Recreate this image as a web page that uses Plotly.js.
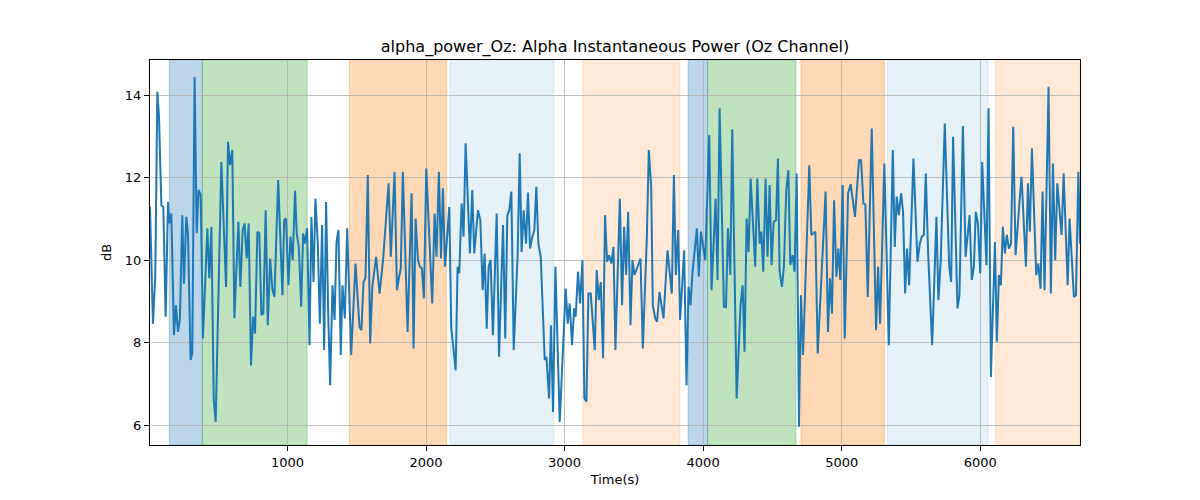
<!DOCTYPE html>
<html>
<head>
<meta charset="utf-8">
<script src="https://cdn.plot.ly/plotly-3.0.1.min.js"></script>
<style>
    html, body { margin: 0; padding: 0; background: #fff; }
    #chart { width: 1200px; height: 500px; }
</style>
</head>
<body>
<div id="chart"></div>
<script>
// sample times (s) and alpha power (dB)
const timeS = [
    8, 29, 46, 61, 73, 90, 104, 121, 138, 147, 162, 181, 195, 210, 224, 241, 253, 270, 282, 301,
    313, 330, 345, 359, 374, 390, 422, 436, 451, 468, 482, 523, 557, 571, 586, 602, 617, 646, 660, 677,
    691, 706, 720, 737, 752, 766, 783, 797, 812, 826, 843, 858, 875, 891, 906, 933, 964, 976, 990, 1007,
    1022, 1038, 1055, 1067, 1082, 1099, 1113, 1125, 1142, 1159, 1173, 1188, 1202, 1219, 1234, 1250, 1265, 1279, 1294, 1308,
    1325, 1340, 1354, 1368, 1385, 1397, 1414, 1431, 1460, 1491, 1520, 1534, 1549, 1563, 1580, 1597, 1612, 1640, 1665, 1690,
    1730, 1746, 1773, 1790, 1804, 1818, 1833, 1867, 1896, 1910, 1925, 1942, 1956, 1970, 1985, 2002, 2045, 2062, 2076, 2093,
    2108, 2122, 2137, 2168, 2182, 2214, 2228, 2240, 2257, 2271, 2286, 2317, 2334, 2348, 2375, 2392, 2409, 2423, 2438, 2452,
    2466, 2483, 2510, 2527, 2556, 2572, 2587, 2601, 2616, 2633, 2662, 2676, 2690, 2705, 2722, 2736, 2751, 2765, 2782, 2796,
    2811, 2828, 2857, 2869, 2888, 2902, 2917, 2934, 2965, 3008, 3023, 3037, 3054, 3069, 3080, 3097, 3112, 3129, 3143, 3158,
    3172, 3189, 3218, 3232, 3247, 3261, 3278, 3292, 3307, 3321, 3338, 3353, 3367, 3399, 3415, 3430, 3444, 3459, 3476, 3490,
    3505, 3548, 3565, 3594, 3608, 3625, 3637, 3654, 3668, 3685, 3714, 3743, 3774, 3789, 3803, 3820, 3834, 3863, 3880, 3895,
    3909, 3924, 3955, 3969, 3984, 4015, 4044, 4061, 4090, 4104, 4119, 4150, 4165, 4179, 4196, 4210, 4242, 4270, 4285, 4299,
    4314, 4328, 4343, 4376, 4391, 4408, 4420, 4434, 4451, 4465, 4480, 4494, 4509, 4526, 4540, 4552, 4569, 4583, 4600, 4615,
    4629, 4646, 4660, 4675, 4692, 4706, 4721, 4766, 4781, 4810, 4827, 4884, 4901, 4916, 4930, 4945, 4962, 4976, 4990, 5007,
    5022, 5046, 5065, 5096, 5125, 5140, 5157, 5171, 5188, 5217, 5248, 5263, 5277, 5308, 5340, 5369, 5383, 5397, 5412, 5429,
    5443, 5458, 5472, 5487, 5518, 5547, 5564, 5578, 5593, 5607, 5624, 5653, 5684, 5698, 5715, 5744, 5776, 5790, 5804, 5836,
    5850, 5875, 5894, 5923, 5939, 5954, 5968, 5983, 6000, 6014, 6045, 6060, 6077, 6106, 6120, 6135, 6149, 6163, 6178, 6192,
    6207, 6222, 6238, 6255, 6284, 6298, 6330, 6344, 6358, 6373, 6404, 6419, 6435, 6450, 6464, 6493, 6510, 6525, 6541, 6556,
    6587, 6602, 6631, 6645, 6676, 6691, 6708, 6720
];
const powerDb = [
    11.29, 8.46, 9.6, 14.08, 13.47, 11.33, 11.29, 8.63, 11.41, 10.89, 11.13, 8.18, 8.91, 8.26, 8.59, 11.09, 9.43, 11.05, 10.65, 7.58,
    7.74, 14.44, 10.65, 11.7, 11.58, 8.1, 10.77, 9.56, 10.81, 6.61, 6.08, 12.38, 9.35, 12.87, 12.3, 12.67, 8.59, 10.93, 9.35, 10.73,
    10.89, 10.04, 10.89, 7.45, 8.63, 8.22, 10.69, 10.65, 8.67, 8.71, 11.21, 8.42, 10.04, 9.3, 9.11, 11.94, 9.15, 10.97, 11.01, 9.39,
    10.57, 10.0, 11.68, 10.65, 10.32, 8.87, 10.65, 10.4, 10.77, 7.94, 11.05, 9.47, 11.49, 10.4, 8.46, 10.85, 7.82, 11.41, 8.7, 6.97,
    9.39, 8.55, 10.44, 10.73, 7.7, 9.39, 8.59, 10.77, 7.7, 9.92, 8.38, 8.3, 9.47, 9.56, 12.06, 7.98, 9.35, 10.08, 9.19, 10.0,
    11.86, 10.08, 12.14, 9.27, 9.56, 9.8, 12.14, 8.26, 11.62, 7.86, 11.01, 10.0, 9.84, 9.8, 9.07, 12.22, 8.95, 11.13, 10.08, 12.14,
    10.04, 11.74, 9.84, 11.29, 8.38, 7.33, 9.84, 9.68, 11.37, 10.57, 12.83, 10.16, 11.7, 10.16, 11.21, 10.97, 9.27, 10.16, 8.34, 9.84,
    10.0, 8.18, 11.13, 7.66, 10.85, 8.1, 11.09, 11.21, 11.66, 7.82, 10.2, 12.59, 10.2, 11.21, 10.4, 11.64, 10.28, 10.53, 10.73, 11.78,
    10.4, 10.08, 7.58, 7.66, 6.65, 8.42, 6.32, 9.84, 6.08, 9.31, 8.46, 8.95, 7.94, 8.83, 8.63, 9.72, 8.95, 10.0, 6.65, 6.57,
    9.19, 9.19, 7.82, 9.76, 9.03, 9.47, 7.62, 11.09, 9.96, 10.12, 9.92, 10.32, 7.82, 11.49, 8.91, 10.81, 9.64, 11.17, 8.42, 10.0,
    9.64, 10.04, 7.86, 10.57, 12.67, 11.78, 8.91, 8.59, 8.51, 9.23, 8.59, 10.24, 9.19, 12.06, 9.64, 10.73, 8.55, 10.24, 6.97, 9.35,
    8.91, 9.72, 10.77, 9.6, 10.69, 10.0, 13.03, 9.27, 11.49, 9.52, 13.68, 8.87, 8.86, 10.77, 9.64, 13.17, 6.65, 8.91, 9.39, 7.78,
    11.01, 10.2, 11.98, 9.84, 11.98, 10.4, 10.69, 9.72, 11.98, 10.08, 11.82, 9.88, 10.93, 10.97, 12.46, 9.72, 9.35, 9.84, 11.7, 12.18,
    9.88, 10.12, 9.72, 12.1, 5.96, 9.15, 7.7, 12.3, 10.61, 10.69, 7.74, 11.66, 8.26, 9.56, 8.71, 11.45, 9.6, 10.28, 9.52, 11.82,
    8.1, 11.62, 11.84, 11.05, 12.42, 12.42, 11.37, 11.35, 9.11, 13.19, 8.3, 9.84, 8.46, 12.34, 7.94, 12.67, 10.32, 11.54, 11.09, 11.62,
    11.17, 9.19, 10.28, 9.39, 12.46, 9.96, 10.4, 10.57, 10.61, 12.1, 10.16, 7.94, 11.05, 9.03, 10.0, 13.31, 9.84, 9.47, 12.99, 8.83,
    9.15, 13.25, 10.08, 11.09, 9.52, 9.84, 11.17, 10.89, 9.68, 12.38, 9.88, 13.68, 7.17, 10.44, 8.02, 9.64, 9.39, 10.81, 10.16, 10.61,
    10.28, 10.4, 13.23, 10.12, 11.45, 12.02, 9.84, 11.86, 10.69, 12.71, 9.64, 9.92, 9.31, 11.66, 9.27, 14.2, 9.19, 12.34, 10.0, 11.86,
    10.61, 12.1, 9.39, 11.01, 9.11, 9.15, 12.14, 10.4
];

// shaded intervals (s) and which colour each one gets
const spanStart = [147, 386, 1448, 2173, 3131, 3892, 4032, 4706, 5328, 6108];
const spanEnd   = [386, 1142, 2149, 2922, 3832, 4032, 4670, 5309, 6055, 6720];
const spanKind  = ['blue', 'green', 'orange', 'lightblue', 'lightorange',
                   'blue', 'green', 'orange', 'lightblue', 'lightorange'];

const xTicks = [1000, 2000, 3000, 4000, 5000, 6000];
const yTicks = [6, 8, 10, 12, 14];

const spanColors = {
    blue: 'rgba(31,119,180,0.3)',
    green: 'rgba(44,160,44,0.3)',
    orange: 'rgba(255,127,14,0.3)',
    lightblue: 'rgba(31,119,180,0.11)',
    lightorange: 'rgba(255,127,14,0.17)'
};

const shapes = spanStart.map(function (x0, i) {
    return {
        type: 'rect', xref: 'x', yref: 'paper',
        x0: x0, x1: spanEnd[i], y0: 0, y1: 1,
        fillcolor: spanColors[spanKind[i]],
        line: { color: spanColors[spanKind[i]], width: 1 },
        layer: 'below'
    };
});

const trace = {
    x: timeS,
    y: powerDb,
    type: 'scatter',
    mode: 'lines',
    line: { color: '#1f77b4', width: 2 },
    hoverinfo: 'x+y'
};

const axisStyle = {
    showline: true, linecolor: '#000', linewidth: 1, mirror: true,
    ticks: 'outside', ticklen: 5, tickwidth: 1, tickcolor: '#000',
    showgrid: true, gridcolor: '#b0b0b0', gridwidth: 0.8,
    zeroline: false,
    tickfont: { size: 13, color: '#000' }
};

const layout = {
    width: 1200, height: 500,
    paper_bgcolor: '#fff', plot_bgcolor: '#fff',
    font: { family: 'DejaVu Sans, sans-serif', color: '#000' },
    margin: { l: 150, r: 120, t: 60, b: 55 },
    showlegend: false,
    title: {
        text: 'alpha_power_Oz: Alpha Instantaneous Power (Oz Channel)',
        font: { size: 16, color: '#000' },
        x: 0.5125, xanchor: 'center',
        y: 0.908, yanchor: 'middle', yref: 'container'
    },
    xaxis: Object.assign({}, axisStyle, {
        range: [8, 6720],
        tickvals: xTicks,
        title: { text: 'Time(s)', font: { size: 13 }, standoff: 6 }
    }),
    yaxis: Object.assign({}, axisStyle, {
        range: [5.52, 14.85],
        tickvals: yTicks,
        title: { text: 'dB', font: { size: 13 }, standoff: 10 }
    }),
    shapes: shapes
};

Plotly.newPlot('chart', [trace], layout, { displayModeBar: false, staticPlot: true });
</script>
</body>
</html>
